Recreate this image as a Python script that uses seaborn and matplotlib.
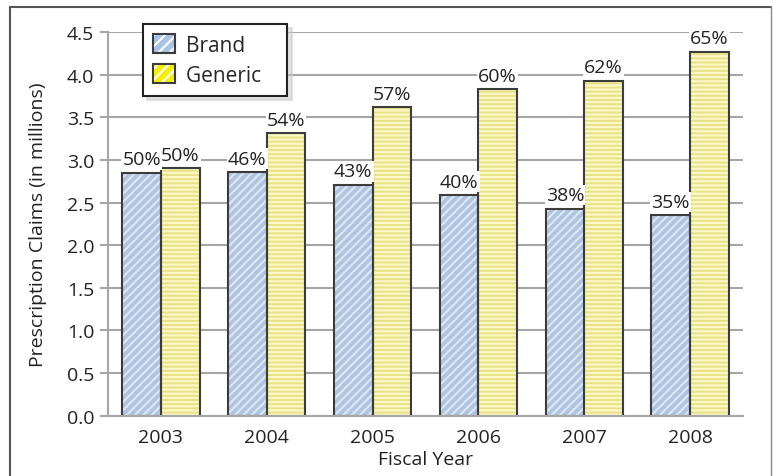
import pandas as pd
import numpy as np
import matplotlib
matplotlib.use('Agg')
import matplotlib.pyplot as plt
import matplotlib.patches as mpatches
from matplotlib.legend_handler import HandlerTuple
import seaborn as sns

# data
years = ['2003', '2004', '2005', '2006', '2007', '2008']
brand_claims = [2.85, 2.86, 2.71, 2.59, 2.43, 2.35]
generic_claims = [2.90, 3.31, 3.62, 3.83, 3.93, 4.27]
brand_pct = ['50%', '46%', '43%', '40%', '38%', '35%']
generic_pct = ['50%', '54%', '57%', '60%', '62%', '65%']
yticks = [0.0, 0.5, 1.0, 1.5, 2.0, 2.5, 3.0, 3.5, 4.0, 4.5]

df = pd.DataFrame({
    'year': years * 2,
    'claims': brand_claims + generic_claims,
    'type': ['Brand'] * len(years) + ['Generic'] * len(years),
})

sns.set_theme(style='white')
plt.rcParams['font.family'] = ['Open Sans', 'DejaVu Sans']
plt.rcParams['hatch.linewidth'] = 1.6

base = {'Brand': '#a8c3e8', 'Generic': '#f7ef7a'}
stripe = {'Brand': '#d9e6f6', 'Generic': '#fcf8c4'}
hatch = {'Brand': '////', 'Generic': '----'}
grid_c = '#a6a6a6'
edge_c = '#3c3c3c'
text_c = '#222222'

fig = plt.figure(figsize=(7.73, 4.77), dpi=100)
ax = fig.add_axes([108 / 773, 1 - 416.7 / 477, (743 - 108) / 773, (416.7 - 33) / 477])

ax.set_axisbelow(True)
ax.yaxis.grid(True, color=grid_c, linewidth=1.5)

# filled, hatched bars
sns.barplot(data=df, x='year', y='claims', hue='type', hue_order=['Brand', 'Generic'],
            palette=base, width=0.73, gap=0, ax=ax, legend=False, linewidth=0)
n = len(years)
for i, p in enumerate(ax.patches[:2 * n]):
    kind = 'Brand' if i < n else 'Generic'
    p.set_hatch(hatch[kind])
    p.set_edgecolor(stripe[kind])
    p.set_linewidth(0)

# outlines on top
sns.barplot(data=df, x='year', y='claims', hue='type', hue_order=['Brand', 'Generic'],
            fill=False, width=0.73, gap=0, ax=ax, legend=False, linewidth=1.5)
for p in ax.patches[2 * n:]:
    p.set_edgecolor(edge_c)

# percentage labels
for i, p in enumerate(ax.patches[:2 * n]):
    lab = brand_pct[i] if i < n else generic_pct[i - n]
    ax.text(p.get_x() + p.get_width() / 2, p.get_height() + 0.05, lab,
            ha='center', va='bottom', fontsize=14, color=text_c,
            bbox=dict(facecolor='white', edgecolor='none', pad=0.8))

ax.set_ylim(0, 4.5)
ax.set_xlim(-0.5, n - 0.5)
ax.set_yticks(yticks)
ax.set_yticklabels([f'{v:.1f}' for v in yticks], fontsize=14, color=text_c)
ax.set_xticks(range(n))
ax.set_xticklabels(years, fontsize=14, color=text_c)
ax.set_xticks(np.arange(-0.5, n, 1.0), minor=True)
ax.tick_params(axis='x', which='major', length=0, pad=9)
ax.tick_params(axis='x', which='minor', length=7, width=1.5, color=grid_c, direction='out')
ax.tick_params(axis='y', length=6, width=1.5, color=grid_c, direction='out', pad=4, left=True)

for s in ['top', 'right']:
    ax.spines[s].set_visible(False)
for s in ['left', 'bottom']:
    ax.spines[s].set_color(grid_c)
    ax.spines[s].set_linewidth(1.5)

ax.set_xlabel('Fiscal Year', fontsize=14, color=text_c, labelpad=3)
ax.set_ylabel('Prescription Claims (in millions)', fontsize=14, color=text_c, labelpad=14)

# legend: hatched swatch with white stripes plus a dark outline on top
leg_fill = {'Brand': '#a8c3e8', 'Generic': '#f5f000'}
handles = []
for kind in ['Brand', 'Generic']:
    fill_p = mpatches.Patch(facecolor=leg_fill[kind], edgecolor='white', hatch='///', linewidth=0)
    line_p = mpatches.Patch(facecolor='none', edgecolor=edge_c, linewidth=1.5)
    handles.append((fill_p, line_p))
leg = fig.legend(handles, ['Brand', 'Generic   '], loc='upper left',
                 handler_map={tuple: HandlerTuple(ndivide=1, pad=0)},
                 bbox_to_anchor=(143 / 773, 1 - 25 / 477), borderaxespad=0,
                 fontsize=15, frameon=True, fancybox=False,
                 shadow={'color': '#c8c8c8', 'ox': 3, 'oy': -3},
                 handlelength=1.05, handleheight=1.0, borderpad=0.5, labelspacing=0.4,
                 handletextpad=0.5)
leg.get_frame().set_edgecolor(text_c)
leg.get_frame().set_linewidth(1.5)

# outer frame of the original figure
fig.add_artist(plt.Line2D([10 / 773, 10 / 773], [0, 1 - 8 / 477], color='#555555', lw=1.5))
fig.add_artist(plt.Line2D([10 / 773, 771 / 773], [1 - 8 / 477, 1 - 8 / 477], color='#555555', lw=1.5))
fig.add_artist(plt.Line2D([771 / 773, 771 / 773], [0, 1 - 8 / 477], color='#888888', lw=1.0))

fig.savefig('out.png', dpi=100)
